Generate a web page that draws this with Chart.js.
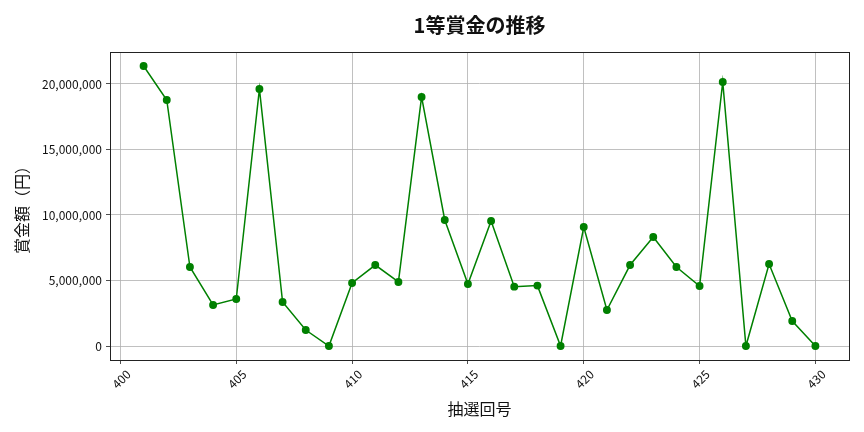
<!DOCTYPE html>
<html>
<head>
<meta charset="utf-8">
<script src="https://cdn.jsdelivr.net/npm/chart.js@4/dist/chart.umd.min.js"></script>
<style>
  html, body { margin: 0; padding: 0; background: #fff; }
  #wrap { width: 864px; height: 432px; }
</style>
</head>
<body>
<div id="wrap"><canvas id="c" width="864" height="432"></canvas></div>
<script>
// ── Data ──────────────────────────────────────────────────────────────────
const drawNumbers = [401, 402, 403, 404, 405, 406, 407, 408, 409, 410,
                     411, 412, 413, 414, 415, 416, 417, 418, 419, 420,
                     421, 422, 423, 424, 425, 426, 427, 428, 429, 430]
const prizes = [21370000, 18780000, 6030000, 3130000, 3590000, 19620000, 3360000, 1220000, 0, 4810000,
                6180000, 4890000, 19010000, 9620000, 4730000, 9540000, 4530000, 4610000, 0, 9080000,
                2750000, 6180000, 8320000, 6030000, 4580000, 20150000, 0, 6260000, 1910000, 0]
const xTicks = [400, 405, 410, 415, 420, 425, 430]
const yTicks = [0, 5000000, 10000000, 15000000, 20000000]

const FONT = '"Noto Sans CJK JP", "Noto Sans", sans-serif'

// frame round the plot area, like the matplotlib spines
const frame = {
  id: 'frame',
  afterDraw(chart) {
    const { ctx, chartArea: a } = chart
    ctx.save()
    ctx.strokeStyle = '#222'
    ctx.lineWidth = 1
    ctx.strokeRect(Math.round(a.left) + 0.5, Math.round(a.top) + 0.5,
                   Math.round(a.right - a.left), Math.round(a.bottom - a.top))
    ctx.restore()
  }
}

new Chart(document.getElementById('c'), {
  type: 'line',
  data: {
    datasets: [{
      data: drawNumbers.map((n, i) => ({ x: n, y: prizes[i] })),
      borderColor: '#008000',
      backgroundColor: '#008000',
      borderWidth: 1.5,
      pointRadius: 3.2,
      pointHoverRadius: 3.2,
      tension: 0,
      fill: false
    }]
  },
  options: {
    responsive: false,
    animation: false,
    layout: { padding: { left: 0, right: 15, top: 0, bottom: 0 } },
    plugins: {
      legend: { display: false },
      tooltip: { enabled: false },
      title: {
        display: true,
        fullSize: false,   // centre over the plot area, not the canvas
        text: '1等賞金の推移',
        color: '#111',
        font: { family: FONT, size: 20, weight: 'bold' },
        padding: { top: 13, bottom: 15 }
      }
    },
    scales: {
      x: {
        type: 'linear',
        min: 399.55,
        max: 431.45,
        afterBuildTicks: s => { s.ticks = xTicks.map(v => ({ value: v })) },
        afterFit: s => { s.height = 72 },
        border: { display: false },
        grid: { color: '#b0b0b0', lineWidth: 0.8, tickColor: '#222', tickLength: 4 },
        ticks: {
          color: '#111',
          font: { family: FONT, size: 12 },
          minRotation: 45,
          maxRotation: 45,
          padding: 3,
          labelOffset: 8,
          callback: v => String(v)
        },
        title: {
          display: true,
          text: '抽選回号',
          color: '#111',
          font: { family: FONT, size: 16 },
          padding: { top: 0, bottom: 13 }
        }
      },
      y: {
        min: -1068000,
        max: 22440000,
        afterBuildTicks: s => { s.ticks = yTicks.map(v => ({ value: v })) },
        afterFit: s => { s.width = 110 },
        border: { display: false },
        grid: { color: '#b0b0b0', lineWidth: 0.8, tickColor: '#222', tickLength: 4 },
        ticks: {
          color: '#111',
          font: { family: FONT, size: 12 },
          padding: 4,
          callback: v => Number(v).toLocaleString('en-US')
        },
        title: {
          display: true,
          text: '賞金額（円）',
          color: '#111',
          font: { family: FONT, size: 16 },
          padding: { top: 12, bottom: 4 }
        }
      }
    }
  },
  plugins: [frame]
})
</script>
</body>
</html>
